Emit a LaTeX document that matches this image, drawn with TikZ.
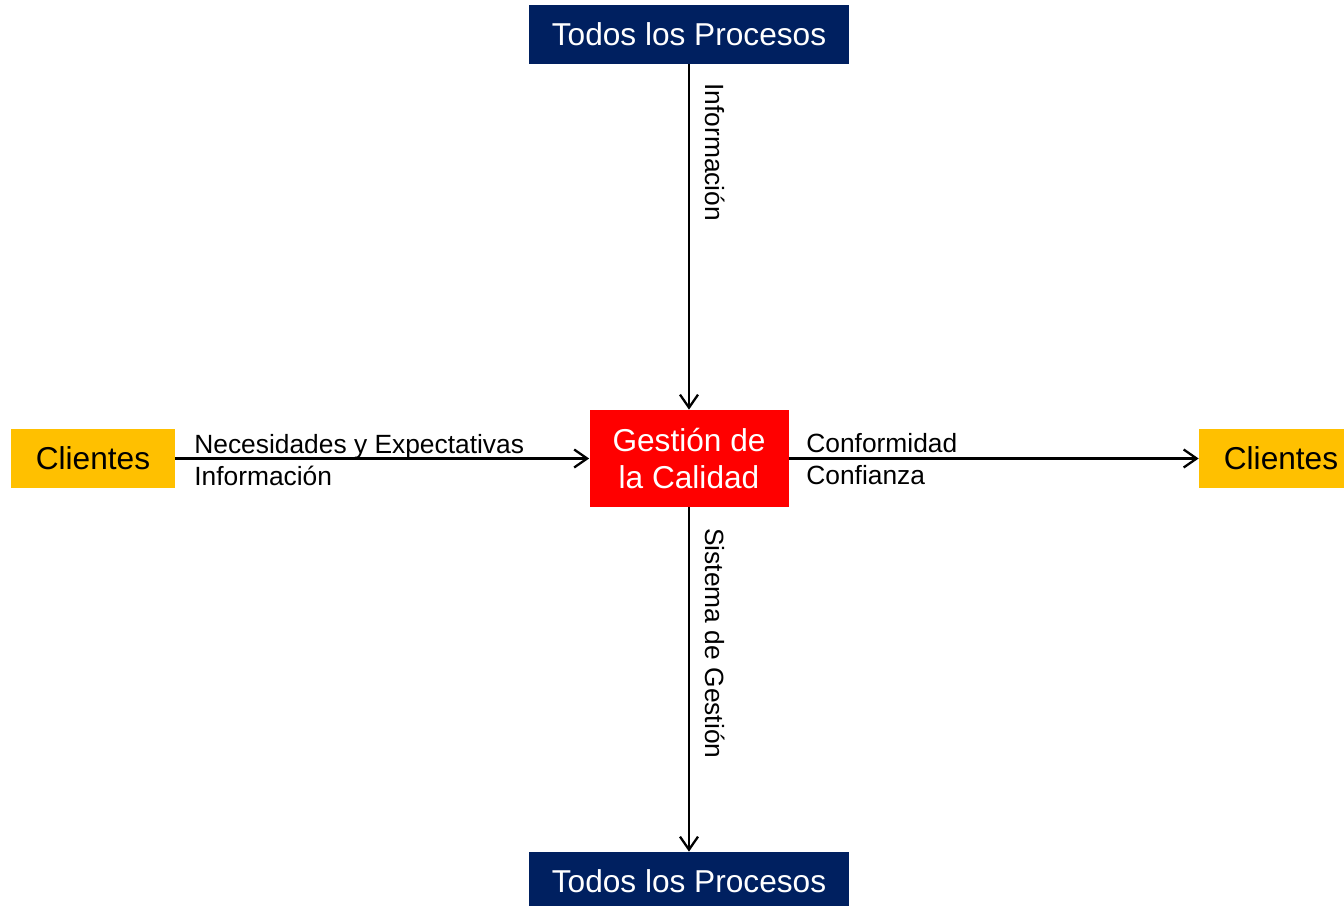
\documentclass[tikz,border=0pt]{standalone}
\usepackage{fontspec}
\setmainfont{Liberation Sans}
\usetikzlibrary{arrows.meta}
\definecolor{procblue}{HTML}{002060}
\definecolor{gold}{HTML}{FFC000}
\tikzset{
  box/.style={inner sep=0pt, font=\fontsize{18}{21}\selectfont, align=center},
  proc/.style={box, fill=procblue, text=white, minimum width=6.4cm, minimum height=1.18cm},
  client/.style={box, fill=gold, minimum width=3.28cm, minimum height=1.18cm},
  core/.style={box, fill=red, text=white, minimum width=3.98cm, minimum height=1.94cm},
  lbl/.style={inner sep=0pt, font=\fontsize{15}{18}\selectfont, anchor=base west},
  flow/.style={line width=1.3pt, -{Straight Barb[length=2.6mm,width=3.6mm,line width=1.3pt]}}
}
\begin{document}
\begin{tikzpicture}
\useasboundingbox (0,0) rectangle (26.88,-18.1);

\node [proc](topproc) at (13.78,-0.69) {Todos los Procesos};
\node [proc](botproc) at (13.78,-17.63) {Todos los Procesos};
\node [core](gestion) at (13.78,-9.17) {Gestión de\\la Calidad};
\node [client](cliin) at (1.86,-9.17) {Clientes};
\node [client](cliout) at (25.62,-9.17) {Clientes};

\draw [flow] (topproc) -- (gestion);
\draw [flow] (gestion) -- (botproc);
\draw [flow] (cliin) -- (gestion);
\draw [flow] (gestion) -- (cliout);

\node [lbl, rotate=-90](infotop) at (14.1,-1.66) {Información};
\node [lbl, rotate=-90](sistema) at (14.1,-10.56) {Sistema de Gestión};
\node [lbl](necesid) at (3.88,-9.06) {Necesidades y Expectativas};
\node [lbl](infoleft) at (3.88,-9.71) {Información};
\node [lbl](conform) at (16.12,-9.05) {Conformidad};
\node [lbl](confian) at (16.12,-9.69) {Confianza};
\end{tikzpicture}
\end{document}
